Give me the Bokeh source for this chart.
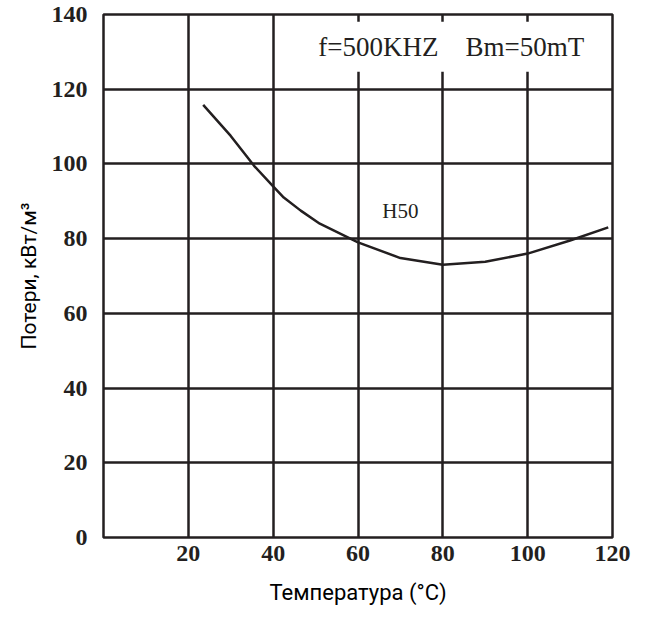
from bokeh.plotting import figure
from bokeh.models import FixedTicker, Label, Range1d
from bokeh.embed import file_html
from bokeh.resources import INLINE

# ---- data ----
temperature = [23.5, 30, 35.5, 40, 42.5, 46.5, 51, 60, 70, 80, 90, 100, 110, 119]
losses = [115.8, 107.5, 99.5, 94.0, 91.0, 87.5, 84.0, 79.0, 74.8, 73.0, 73.8, 76.0, 79.5, 83.0]
x_ticks = [20, 40, 60, 80, 100, 120]
y_ticks = [0, 20, 40, 60, 80, 100, 120, 140]
curve_name = "H50"
condition_text = "f=500KHZ\u00a0\u00a0\u00a0\u00a0Bm=50mT"
x_title = "Температура (°C)"
y_title = "Потери, кВт/м³"

INK = "#231f20"

p = figure(width=640, height=609, output_backend="svg", toolbar_location=None,
           x_range=Range1d(0, 120), y_range=Range1d(0, 140),
           min_border_left=103, min_border_right=28, min_border_top=14, min_border_bottom=72)

p.background_fill_color = "white"
p.border_fill_color = "white"
p.outline_line_color = INK
p.outline_line_width = 2.5

p.xaxis.ticker = FixedTicker(ticks=x_ticks)
p.yaxis.ticker = FixedTicker(ticks=y_ticks)
p.xgrid.ticker = FixedTicker(ticks=x_ticks)
p.ygrid.ticker = FixedTicker(ticks=y_ticks)

for g in (p.xgrid, p.ygrid):
    g.grid_line_color = INK
    g.grid_line_width = 2.5
    g.grid_line_alpha = 1.0

for ax in (p.xaxis, p.yaxis):
    ax.axis_line_color = None
    ax.major_tick_line_color = None
    ax.minor_tick_line_color = None
    ax.major_label_text_font = "Liberation Serif"
    ax.major_label_text_font_style = "bold"
    ax.major_label_text_font_size = "24px"
    ax.major_label_text_color = INK
    ax.axis_label_text_font = "Roboto"
    ax.axis_label_text_font_style = "normal"
    ax.axis_label_text_color = "black"

p.xaxis.axis_label_text_font_size = "22px"
p.yaxis.axis_label_text_font_size = "21px"
p.xaxis.axis_label = x_title
p.yaxis.axis_label = y_title
p.xaxis.major_label_standoff = 2
p.yaxis.major_label_standoff = 10
p.xaxis.axis_label_standoff = 16
p.yaxis.axis_label_standoff = 8

p.line(temperature, losses, line_color=INK, line_width=2.5)

p.add_layout(Label(x=70, y=87.5, text=curve_name, text_align="center", text_baseline="middle",
                   text_font="Liberation Serif", text_font_size="21px", text_color=INK))

p.add_layout(Label(x=82, y=131.4, text=condition_text, text_align="center", text_baseline="middle",
                   text_font="Liberation Serif", text_font_size="27px", text_color=INK,
                   background_fill_color="white", padding=10))

open("out.html", "w").write(file_html(p, INLINE))
